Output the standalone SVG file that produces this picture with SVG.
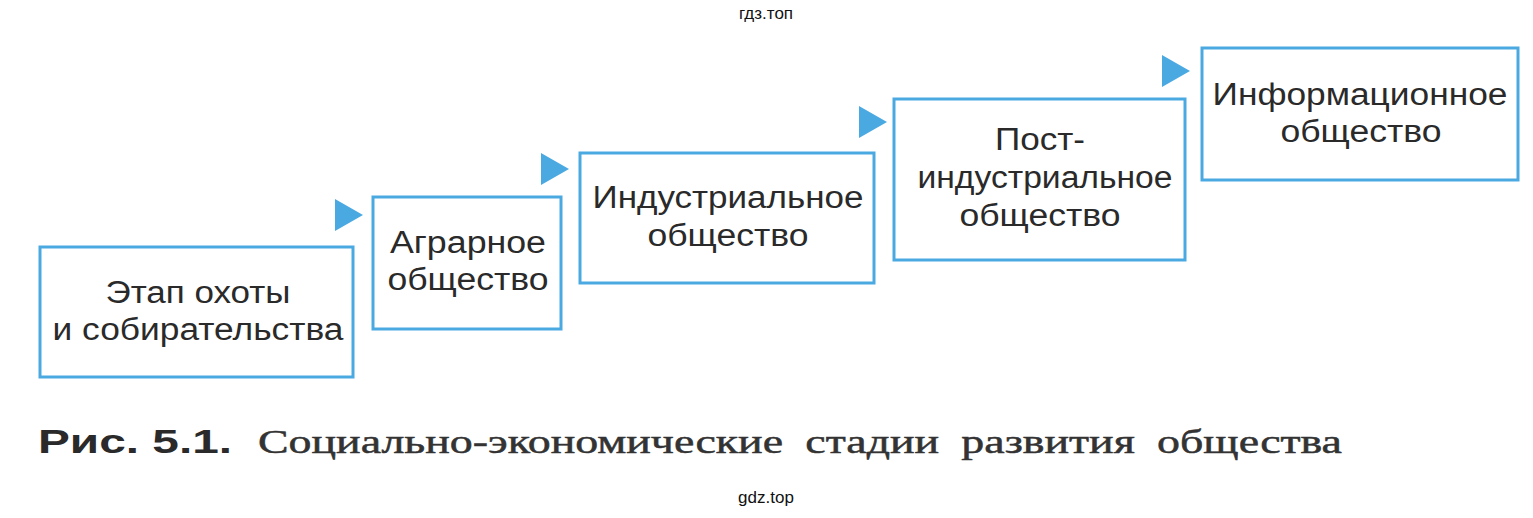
<svg xmlns="http://www.w3.org/2000/svg" width="1533" height="518" viewBox="0 0 1533 518">
<style>
.box{fill:#fff;stroke:#4ba9e2;stroke-width:3}
.t{font-family:"Liberation Sans",Arial,sans-serif;font-size:31px;fill:#2a2a2a;text-anchor:middle}
.arr{fill:#4ba9e2}
.wm{font-family:"Liberation Sans",Arial,sans-serif;font-size:17px;fill:#111;text-anchor:middle}
</style>
<rect width="1533" height="518" fill="#fff"/>
<text class="wm" x="766" y="19">гдз.топ</text>
<text class="wm" x="766" y="503">gdz.top</text>
<g id="connectors">
<polygon class="arr" points="335,199 363,215 335,231"/>
<polygon class="arr" points="541,153 569,169 541,185"/>
<polygon class="arr" points="859,106 887,122 859,138"/>
<polygon class="arr" points="1162,55 1190,71 1162,87"/>
</g>
<g id="n1"><rect class="box" x="40" y="247" width="313" height="130"/>
<text class="t" x="198" y="303" textLength="185" lengthAdjust="spacingAndGlyphs">Этап охоты</text><text class="t" x="198" y="340" textLength="291" lengthAdjust="spacingAndGlyphs">и собирательства</text></g>
<g id="n2"><rect class="box" x="373" y="197" width="188" height="132"/>
<text class="t" x="468" y="253" textLength="156" lengthAdjust="spacingAndGlyphs">Аграрное</text><text class="t" x="468" y="290" textLength="161" lengthAdjust="spacingAndGlyphs">общество</text></g>
<g id="n3"><rect class="box" x="580" y="153" width="294" height="130"/>
<text class="t" x="728" y="208" textLength="271" lengthAdjust="spacingAndGlyphs">Индустриальное</text><text class="t" x="728" y="246" textLength="161" lengthAdjust="spacingAndGlyphs">общество</text></g>
<g id="n4"><rect class="box" x="894" y="99" width="291" height="161"/>
<text class="t" x="1040" y="150" textLength="90" lengthAdjust="spacingAndGlyphs">Пост-</text><text class="t" x="1045" y="188" textLength="255" lengthAdjust="spacingAndGlyphs">индустриальное</text><text class="t" x="1040" y="226" textLength="161" lengthAdjust="spacingAndGlyphs">общество</text></g>
<g id="n5"><rect class="box" x="1202" y="48" width="316" height="132"/>
<text class="t" x="1360" y="105" textLength="295" lengthAdjust="spacingAndGlyphs">Информационное</text><text class="t" x="1361" y="142" textLength="161" lengthAdjust="spacingAndGlyphs">общество</text></g>
<text x="38" y="453" font-family="'Liberation Sans',Arial,sans-serif" font-weight="bold" font-size="33" fill="#2a2a2a" textLength="194" lengthAdjust="spacingAndGlyphs">Рис.  5.1.</text>
<text x="258" y="453" font-family="'Liberation Serif','Times New Roman',serif" font-size="34" fill="#333" stroke="#333" stroke-width="0.5" textLength="1084" lengthAdjust="spacingAndGlyphs" word-spacing="8">Социально-экономические стадии развития общества</text>
</svg>
